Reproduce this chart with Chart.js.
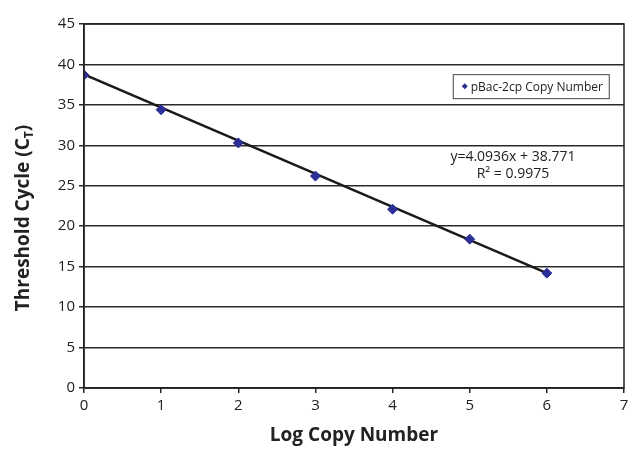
<!DOCTYPE html>
<html>
<head>
<meta charset="utf-8">
<script src="https://cdn.jsdelivr.net/npm/chart.js@4"></script>
<style>
  html, body { margin: 0; padding: 0; background: #fff; }
  #wrap { width: 635px; height: 451px; }
</style>
</head>
<body>
<div id="wrap"><canvas id="myChart" width="635" height="451"></canvas></div>
<script>
// measured points (log copy number vs threshold cycle)
let logCopy = [0, 1, 2, 3, 4, 5, 6];
let ctValues = [38.7, 34.4, 30.3, 26.2, 22.1, 18.4, 14.2];

// fitted line end points as shown on the chart
let trendX = [0, 6];
let trendY = [38.77, 14.21];

let seriesName = "pBac-2cp Copy Number";
let equationLines = ["y=4.0936x + 38.771", "R\u00B2 = 0.9975"];

const ctx = document.getElementById("myChart");
const FONT = "'Open Sans', 'Noto Sans', sans-serif";

const extras = {
  id: "extras",
  afterDraw(chart) {
    const c = chart.ctx;
    const a = chart.chartArea;
    const xs = chart.scales.x;
    const ys = chart.scales.y;
    c.save();

    // frame round the plot area
    c.strokeStyle = "#222";
    c.lineWidth = 1.5;
    c.strokeRect(a.left, a.top, a.right - a.left, a.bottom - a.top);

    // legend box
    const lx = xs.getPixelForValue(4.78), ly = ys.getPixelForValue(38.8);
    const lw = 156, lh = 24;
    c.fillStyle = "#fff";
    c.fillRect(lx, ly, lw, lh);
    c.strokeStyle = "#444";
    c.lineWidth = 1;
    c.strokeRect(lx + 0.5, ly + 0.5, lw, lh);
    c.fillStyle = "#2b2f8f";
    c.beginPath();
    c.moveTo(lx + 12, ly + 9);
    c.lineTo(lx + 15, ly + 12);
    c.lineTo(lx + 12, ly + 15);
    c.lineTo(lx + 9, ly + 12);
    c.closePath();
    c.fill();
    c.fillStyle = "#222";
    c.font = "12px " + FONT;
    c.textBaseline = "middle";
    c.textAlign = "left";
    c.fillText(seriesName, lx + 18, ly + 13);

    // equation text
    c.textAlign = "center";
    c.font = "14px " + FONT;
    const ex = xs.getPixelForValue(5.56);
    c.fillText(equationLines[0], ex, ys.getPixelForValue(28.55));
    c.fillText(equationLines[1], ex, ys.getPixelForValue(26.45));

    // y axis title with subscript T
    c.translate(24, (a.top + a.bottom) / 2 + 12);
    c.rotate(-Math.PI / 2);
    c.fillStyle = "#222";
    c.textBaseline = "middle";
    c.textAlign = "left";
    c.font = "bold 19px " + FONT;
    const part1 = "Threshold Cycle (C";
    const w1 = c.measureText(part1).width;
    c.font = "bold 12px " + FONT;
    const w2 = c.measureText("T").width;
    c.font = "bold 19px " + FONT;
    const w3 = c.measureText(")").width;
    const start = -(w1 + w2 + w3) / 2;
    c.fillText(part1, start, 0);
    c.font = "bold 12px " + FONT;
    c.fillText("T", start + w1, 6);
    c.font = "bold 19px " + FONT;
    c.fillText(")", start + w1 + w2, 0);
    c.restore();
  }
};

new Chart(ctx, {
  type: "scatter",
  data: {
    datasets: [
      {
        label: seriesName,
        data: logCopy.map((x, i) => ({ x: x, y: ctValues[i] })),
        backgroundColor: "#2b2f95",
        borderColor: "#2b2f95",
        pointStyle: "rectRot",
        pointRadius: 5,
        order: 0,
      },
      {
        label: "Linear fit",
        type: "line",
        data: trendX.map((x, i) => ({ x: x, y: trendY[i] })),
        borderColor: "#1a1a1a",
        borderWidth: 2.5,
        pointRadius: 0,
        fill: false,
        order: 1,
      },
    ],
  },
  options: {
    responsive: false,
    animation: false,
    layout: { padding: { top: 24, right: 11, left: 0, bottom: 0 } },
    plugins: {
      legend: { display: false },
      tooltip: { enabled: false },
    },
    scales: {
      x: {
        type: "linear",
        min: 0,
        max: 7,
        ticks: {
          stepSize: 1,
          color: "#222",
          font: { family: FONT, size: 15 },
          padding: 4,
        },
        grid: {
          drawOnChartArea: false,
          drawTicks: true,
          tickLength: 5,
          color: "#222",
          lineWidth: 1.5,
        },
        border: { color: "#222", width: 1.5 },
        title: {
          display: true,
          text: "Log Copy Number",
          color: "#222",
          font: { family: FONT, size: 19, weight: "bold" },
          padding: { top: 2 },
        },
        afterFit(scale) { scale.height = 63; },
      },
      y: {
        min: 0,
        max: 45,
        ticks: {
          stepSize: 5,
          color: "#222",
          font: { family: FONT, size: 15 },
          padding: 4,
        },
        grid: {
          color: "#2a2a2a",
          lineWidth: 1.5,
          tickLength: 5,
        },
        border: { color: "#222", width: 1.5 },
        afterFit(scale) { scale.width = 84; },
      },
    },
  },
  plugins: [extras],
});
</script>
</body>
</html>
